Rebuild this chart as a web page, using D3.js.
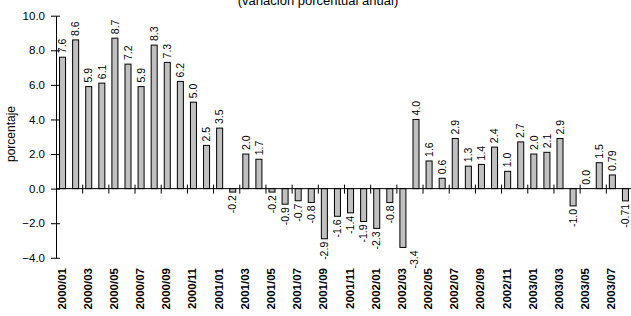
<!DOCTYPE html>
<html>
<head>
<meta charset="utf-8">
<script src="https://cdn.jsdelivr.net/npm/d3@7"></script>
<style>
  body { margin: 0; background: #fff; }
  svg { display: block; font-family: "Liberation Sans", Arial, sans-serif; }
</style>
</head>
<body>
<div id="chart"></div>
<script>
const months = [
  '2000/01','2000/02','2000/03','2000/04','2000/05','2000/06','2000/07','2000/08','2000/09','2000/10','2000/11','2000/12',
  '2001/01','2001/02','2001/03','2001/04','2001/05','2001/06','2001/07','2001/08','2001/09','2001/10','2001/11','2001/12',
  '2002/01','2002/02','2002/03','2002/04','2002/05','2002/06','2002/07','2002/08','2002/09','2002/10','2002/11','2002/12',
  '2003/01','2003/02','2003/03','2003/04','2003/05','2003/06','2003/07','2003/08'
];
const values = [
  7.6, 8.6, 5.9, 6.1, 8.7, 7.2, 5.9, 8.3, 7.3, 6.2, 5.0, 2.5,
  3.5, -0.2, 2.0, 1.7, -0.2, -0.9, -0.7, -0.8, -2.9, -1.6, -1.4, -1.9,
  -2.3, -0.8, -3.4, 4.0, 1.6, 0.6, 2.9, 1.3, 1.4, 2.4, 1.0, 2.7,
  2.0, 2.1, 2.9, -1.0, 0.0, 1.5, 0.79, -0.71
];
const valueLabels = [
  '7.6','8.6','5.9','6.1','8.7','7.2','5.9','8.3','7.3','6.2','5.0','2.5',
  '3.5','-0.2','2.0','1.7','-0.2','-0.9','-0.7','-0.8','-2.9','-1.6','-1.4','-1.9',
  '-2.3','-0.8','-3.4','4.0','1.6','0.6','2.9','1.3','1.4','2.4','1.0','2.7',
  '2.0','2.1','2.9','-1.0','0.0','1.5','0.79','-0.71'
];
const yTicks = [-4, -2, 0, 2, 4, 6, 8, 10];
const subtitle = '(variación porcentual anual)';
const yTitle = 'porcentaje';

const width = 631, height = 316;
const plotLeft = 56, plotRight = 632, plotTop = 15.7, plotBottom = 257.8;

const svg = d3.select('#chart').append('svg')
  .attr('width', width)
  .attr('height', height);

const x = d3.scaleBand()
  .domain(months)
  .range([plotLeft, plotRight])
  .paddingInner(0.54)
  .paddingOuter(0.27);

const y = d3.scaleLinear()
  .domain([-4, 10])
  .range([plotBottom, plotTop]);

// title (cut at top, like the source)
svg.append('text')
  .attr('x', 318)
  .attr('y', 5)
  .attr('text-anchor', 'middle')
  .attr('font-size', 13)
  .attr('fill', '#000')
  .text(subtitle);

// y axis title
svg.append('text')
  .attr('transform', 'translate(15, 134) rotate(-90)')
  .attr('text-anchor', 'middle')
  .attr('font-size', 12)
  .text(yTitle);

// y axis
const yAxis = svg.append('g')
  .attr('transform', `translate(${plotLeft},0)`)
  .call(d3.axisLeft(y).tickValues(yTicks).tickFormat(d3.format('.1f')).tickSize(5).tickSizeOuter(0));
yAxis.select('.domain').attr('stroke', '#000');
yAxis.selectAll('.tick line').attr('x2', 4).attr('x1', -5).attr('stroke', '#000');
yAxis.selectAll('.tick text')
  .attr('x', -11)
  .attr('font-size', 11.5)
  .attr('font-family', '"Liberation Sans", Arial, sans-serif')
  .attr('fill', '#000');

// bars
svg.append('g').selectAll('rect')
  .data(values)
  .join('rect')
  .attr('x', (d, i) => x(months[i]))
  .attr('width', x.bandwidth())
  .attr('y', d => y(Math.max(0, d)))
  .attr('height', d => Math.abs(y(d) - y(0)))
  .attr('fill', '#c0c0c0')
  .attr('stroke', '#000')
  .attr('stroke-width', 1);

// zero line with category ticks
const step = x.step();
const zero = y(0);
svg.append('line')
  .attr('x1', plotLeft).attr('x2', plotRight)
  .attr('y1', zero).attr('y2', zero)
  .attr('stroke', '#000');
svg.append('g').selectAll('line')
  .data(months.filter((m, i) => i % 2 === 0))
  .join('line')
  .attr('x1', m => x(m) - x.paddingOuter() * step + 0.5)
  .attr('x2', m => x(m) - x.paddingOuter() * step + 0.5)
  .attr('y1', zero - 4)
  .attr('y2', zero + 5)
  .attr('stroke', '#000');

// value labels; a label that would run into the month labels moves right
const labelSize = 10.5;
svg.append('g').selectAll('text')
  .data(values)
  .join('text')
  .attr('transform', (d, i) => {
    let cx = x(months[i]) + x.bandwidth() / 2;
    const cy = d >= 0 ? y(d) - 4 : y(d) + 3;
    if (d < 0 && cy + valueLabels[i].length * labelSize * 0.45 > 262) cx += step * 0.85;
    return `translate(${cx},${cy}) rotate(-90)`;
  })
  .attr('text-anchor', d => d >= 0 ? 'start' : 'end')
  .attr('dy', '0.35em')
  .attr('font-size', labelSize)
  .text((d, i) => valueLabels[i]);

// category labels
svg.append('g').selectAll('text')
  .data(months.filter((m, i) => i % 2 === 0))
  .join('text')
  .attr('transform', m => `translate(${x(m) + x.bandwidth() / 2 - 1},268) rotate(-90)`)
  .attr('text-anchor', 'end')
  .attr('dy', '0.35em')
  .attr('font-size', 11.5)
  .attr('font-weight', 'bold')
  .text(m => m);
</script>
</body>
</html>
